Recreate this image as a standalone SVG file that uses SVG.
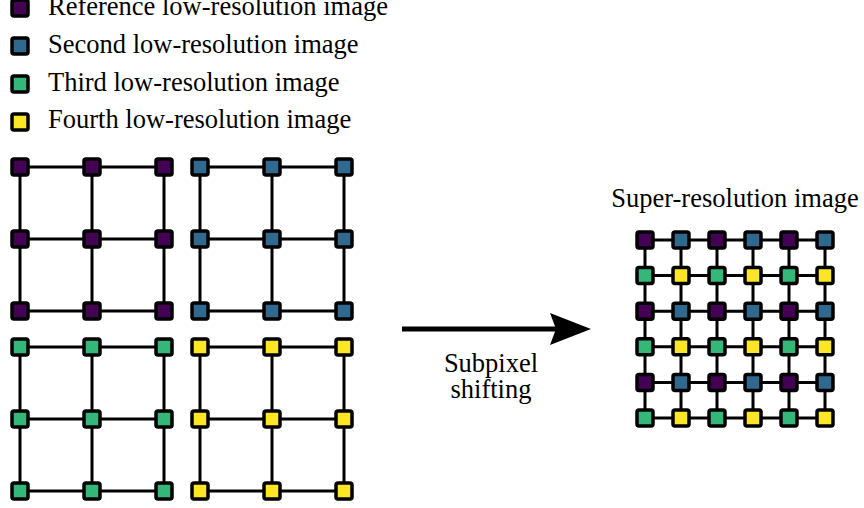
<svg xmlns="http://www.w3.org/2000/svg" width="864" height="508" viewBox="0 0 864 508">
<style>
.t{font-family:"Liberation Serif","Times New Roman",serif;font-size:26.5px;fill:#000}
.n{stroke:#000;stroke-width:3.5;stroke-linejoin:round}
.p{fill:#440154}.b{fill:#31688e}.g{fill:#35b779}.y{fill:#fde725}
.e{stroke:#000;stroke-width:3;fill:none}
</style>
<rect width="864" height="508" fill="#fff"/>
<g id="legend">
<g id="leg-ref"><rect class="n p" x="12" y="0" width="16" height="16" rx="2"/><text class="t" x="48" y="15">Reference low-resolution image</text></g>
<g id="leg-second"><rect class="n b" x="12" y="38" width="16" height="16" rx="2"/><text class="t" x="48" y="53">Second low-resolution image</text></g>
<g id="leg-third"><rect class="n g" x="12" y="76" width="16" height="16" rx="2"/><text class="t" x="48" y="91">Third low-resolution image</text></g>
<g id="leg-fourth"><rect class="n y" x="12" y="114" width="16" height="16" rx="2"/><text class="t" x="48" y="128">Fourth low-resolution image</text></g>
</g>
<g id="connectors">
<path class="e" d="M20,167H164M20,239H164M20,311H164M20,167V311M92,167V311M164,167V311"/>
<path class="e" d="M200,167H344M200,239H344M200,311H344M200,167V311M272,167V311M344,167V311"/>
<path class="e" d="M20,347H164M20,419H164M20,491H164M20,347V491M92,347V491M164,347V491"/>
<path class="e" d="M200,347H344M200,419H344M200,491H344M200,347V491M272,347V491M344,347V491"/>
<path class="e" d="M645,240H825M645,275.6H825M645,311.2H825M645,346.8H825M645,382.4H825M645,418H825M645,240V418M681,240V418M717,240V418M753,240V418M789,240V418M825,240V418"/>
<g id="arrow"><line x1="402" y1="329" x2="560" y2="329" stroke="#000" stroke-width="5"/><path d="M550,313L591,329L550,345L556,329Z" fill="#000"/></g>
</g>
<g id="label-shift"><text class="t" x="491" y="372" text-anchor="middle">Subpixel</text><text class="t" x="491" y="398" text-anchor="middle">shifting</text></g>
<g id="label-sr"><text class="t" x="735" y="207" text-anchor="middle">Super-resolution image</text></g>
<g id="grid-ref">
<g id="r11"><rect class="n p" x="12" y="159" width="16" height="16" rx="2"/></g>
<g id="r12"><rect class="n p" x="84" y="159" width="16" height="16" rx="2"/></g>
<g id="r13"><rect class="n p" x="156" y="159" width="16" height="16" rx="2"/></g>
<g id="r21"><rect class="n p" x="12" y="231" width="16" height="16" rx="2"/></g>
<g id="r22"><rect class="n p" x="84" y="231" width="16" height="16" rx="2"/></g>
<g id="r23"><rect class="n p" x="156" y="231" width="16" height="16" rx="2"/></g>
<g id="r31"><rect class="n p" x="12" y="303" width="16" height="16" rx="2"/></g>
<g id="r32"><rect class="n p" x="84" y="303" width="16" height="16" rx="2"/></g>
<g id="r33"><rect class="n p" x="156" y="303" width="16" height="16" rx="2"/></g>
</g>
<g id="grid-second">
<g id="s11"><rect class="n b" x="192" y="159" width="16" height="16" rx="2"/></g>
<g id="s12"><rect class="n b" x="264" y="159" width="16" height="16" rx="2"/></g>
<g id="s13"><rect class="n b" x="336" y="159" width="16" height="16" rx="2"/></g>
<g id="s21"><rect class="n b" x="192" y="231" width="16" height="16" rx="2"/></g>
<g id="s22"><rect class="n b" x="264" y="231" width="16" height="16" rx="2"/></g>
<g id="s23"><rect class="n b" x="336" y="231" width="16" height="16" rx="2"/></g>
<g id="s31"><rect class="n b" x="192" y="303" width="16" height="16" rx="2"/></g>
<g id="s32"><rect class="n b" x="264" y="303" width="16" height="16" rx="2"/></g>
<g id="s33"><rect class="n b" x="336" y="303" width="16" height="16" rx="2"/></g>
</g>
<g id="grid-third">
<g id="t11"><rect class="n g" x="12" y="339" width="16" height="16" rx="2"/></g>
<g id="t12"><rect class="n g" x="84" y="339" width="16" height="16" rx="2"/></g>
<g id="t13"><rect class="n g" x="156" y="339" width="16" height="16" rx="2"/></g>
<g id="t21"><rect class="n g" x="12" y="411" width="16" height="16" rx="2"/></g>
<g id="t22"><rect class="n g" x="84" y="411" width="16" height="16" rx="2"/></g>
<g id="t23"><rect class="n g" x="156" y="411" width="16" height="16" rx="2"/></g>
<g id="t31"><rect class="n g" x="12" y="483" width="16" height="16" rx="2"/></g>
<g id="t32"><rect class="n g" x="84" y="483" width="16" height="16" rx="2"/></g>
<g id="t33"><rect class="n g" x="156" y="483" width="16" height="16" rx="2"/></g>
</g>
<g id="grid-fourth">
<g id="f11"><rect class="n y" x="192" y="339" width="16" height="16" rx="2"/></g>
<g id="f12"><rect class="n y" x="264" y="339" width="16" height="16" rx="2"/></g>
<g id="f13"><rect class="n y" x="336" y="339" width="16" height="16" rx="2"/></g>
<g id="f21"><rect class="n y" x="192" y="411" width="16" height="16" rx="2"/></g>
<g id="f22"><rect class="n y" x="264" y="411" width="16" height="16" rx="2"/></g>
<g id="f23"><rect class="n y" x="336" y="411" width="16" height="16" rx="2"/></g>
<g id="f31"><rect class="n y" x="192" y="483" width="16" height="16" rx="2"/></g>
<g id="f32"><rect class="n y" x="264" y="483" width="16" height="16" rx="2"/></g>
<g id="f33"><rect class="n y" x="336" y="483" width="16" height="16" rx="2"/></g>
</g>
<g id="grid-sr">
<g id="sr11"><rect class="n p" x="637" y="232" width="16" height="16" rx="2"/></g>
<g id="sr12"><rect class="n b" x="673" y="232" width="16" height="16" rx="2"/></g>
<g id="sr13"><rect class="n p" x="709" y="232" width="16" height="16" rx="2"/></g>
<g id="sr14"><rect class="n b" x="745" y="232" width="16" height="16" rx="2"/></g>
<g id="sr15"><rect class="n p" x="781" y="232" width="16" height="16" rx="2"/></g>
<g id="sr16"><rect class="n b" x="817" y="232" width="16" height="16" rx="2"/></g>
<g id="sr21"><rect class="n g" x="637" y="267.6" width="16" height="16" rx="2"/></g>
<g id="sr22"><rect class="n y" x="673" y="267.6" width="16" height="16" rx="2"/></g>
<g id="sr23"><rect class="n g" x="709" y="267.6" width="16" height="16" rx="2"/></g>
<g id="sr24"><rect class="n y" x="745" y="267.6" width="16" height="16" rx="2"/></g>
<g id="sr25"><rect class="n g" x="781" y="267.6" width="16" height="16" rx="2"/></g>
<g id="sr26"><rect class="n y" x="817" y="267.6" width="16" height="16" rx="2"/></g>
<g id="sr31"><rect class="n p" x="637" y="303.2" width="16" height="16" rx="2"/></g>
<g id="sr32"><rect class="n b" x="673" y="303.2" width="16" height="16" rx="2"/></g>
<g id="sr33"><rect class="n p" x="709" y="303.2" width="16" height="16" rx="2"/></g>
<g id="sr34"><rect class="n b" x="745" y="303.2" width="16" height="16" rx="2"/></g>
<g id="sr35"><rect class="n p" x="781" y="303.2" width="16" height="16" rx="2"/></g>
<g id="sr36"><rect class="n b" x="817" y="303.2" width="16" height="16" rx="2"/></g>
<g id="sr41"><rect class="n g" x="637" y="338.8" width="16" height="16" rx="2"/></g>
<g id="sr42"><rect class="n y" x="673" y="338.8" width="16" height="16" rx="2"/></g>
<g id="sr43"><rect class="n g" x="709" y="338.8" width="16" height="16" rx="2"/></g>
<g id="sr44"><rect class="n y" x="745" y="338.8" width="16" height="16" rx="2"/></g>
<g id="sr45"><rect class="n g" x="781" y="338.8" width="16" height="16" rx="2"/></g>
<g id="sr46"><rect class="n y" x="817" y="338.8" width="16" height="16" rx="2"/></g>
<g id="sr51"><rect class="n p" x="637" y="374.4" width="16" height="16" rx="2"/></g>
<g id="sr52"><rect class="n b" x="673" y="374.4" width="16" height="16" rx="2"/></g>
<g id="sr53"><rect class="n p" x="709" y="374.4" width="16" height="16" rx="2"/></g>
<g id="sr54"><rect class="n b" x="745" y="374.4" width="16" height="16" rx="2"/></g>
<g id="sr55"><rect class="n p" x="781" y="374.4" width="16" height="16" rx="2"/></g>
<g id="sr56"><rect class="n b" x="817" y="374.4" width="16" height="16" rx="2"/></g>
<g id="sr61"><rect class="n g" x="637" y="410" width="16" height="16" rx="2"/></g>
<g id="sr62"><rect class="n y" x="673" y="410" width="16" height="16" rx="2"/></g>
<g id="sr63"><rect class="n g" x="709" y="410" width="16" height="16" rx="2"/></g>
<g id="sr64"><rect class="n y" x="745" y="410" width="16" height="16" rx="2"/></g>
<g id="sr65"><rect class="n g" x="781" y="410" width="16" height="16" rx="2"/></g>
<g id="sr66"><rect class="n y" x="817" y="410" width="16" height="16" rx="2"/></g>
</g>
</svg>
